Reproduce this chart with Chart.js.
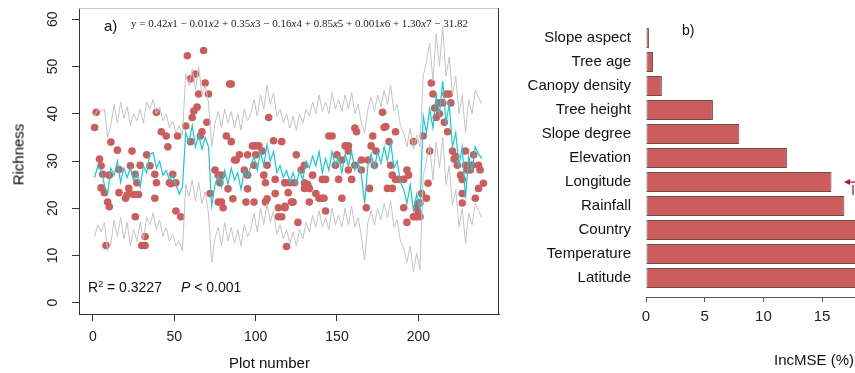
<!DOCTYPE html>
<html><head><meta charset="utf-8">
<script src="https://cdn.jsdelivr.net/npm/chart.js@4"></script>
<style>
html,body{margin:0;padding:0;background:#fff;width:855px;height:373px;overflow:hidden;position:relative;font-family:"Liberation Sans",Arial,sans-serif;}
canvas{position:absolute;top:0;}
#ca{left:0;}
#cb{left:520px;}
.t{position:absolute;white-space:nowrap;color:#111;line-height:1;}
</style></head><body>
<canvas id="ca" width="520" height="373"></canvas>
<canvas id="cb" width="335" height="373"></canvas>
<div class="t" style="left:104px;top:18px;font-size:15px">a)</div>
<div class="t" style="left:131px;top:18px;font-family:'Liberation Serif',serif;font-size:11px;color:#222">y = 0.42<i>x</i>1 − 0.01<i>x</i>2 + 0.35<i>x</i>3 − 0.16<i>x</i>4 + 0.85<i>x</i>5 + 0.001<i>x</i>6 + 1.30<i>x</i>7 − 31.82</div>
<div class="t" style="left:88px;top:280px;font-size:14px">R<span style="font-size:9px;vertical-align:5px">2</span> = 0.3227</div>
<div class="t" style="left:181px;top:280px;font-size:14px"><i>P</i> &lt; 0.001</div>
<div class="t" style="left:-32px;top:147px;width:100px;height:15px;text-align:center;font-size:15px;color:#000;transform:rotate(-90deg)">Richness</div>
<div class="t" style="left:229px;top:355px;font-size:15px">Plot number</div>
<div class="t" style="left:682px;top:23px;font-size:14px">b)</div>
<div class="t" style="right:1px;top:352px;font-size:15px">IncMSE (%)</div>
<script>
// ---------- Panel a data ----------
const richTicks = [0, 10, 20, 30, 40, 50, 60];
const plotTicks = [0, 50, 100, 150, 200];
const lineX = [1,3,5,7,9,11,13,15,17,19,21,23,25,27,29,31,33,35,37,39,41,43,45,47,49,51,53,55,
57,59,61,63,65,67,69,71,73,75,77,79,81,83,85,87,89,91,93,95,97,99,101,103,105,107,109,111,113,115,117,119,
121,123,125,127,129,131,133,135,137,139,141,143,145,147,149,151,153,155,157,159,161,163,165,167,169,171,173,175,177,179,
181,183,185,187,189,191,193,195,197,199,201,203,205,207,209,211,213,215,217,219,221,223,225,227,229,231,233,235,237,239];
const predicted = [26.5,29,28,25,23,28.5,27,30,25.5,28.5,26.5,28.5,26,27.5,24.5,29,27.5,31.5,31.8,28.5,30,27,28,26,27,25,23,24.5,
36,34,37.5,33,35.5,32.5,35,33,
20.5,25,27,24.5,28,25,28.5,26,27.5,24,28,26.5,29,31,28,32,29,33.5,30,32,27.5,29,26.5,28,25.5,27.5,25,28,26,30,28.5,31,29,32,27.5,30.5,28,32,29,31,27.5,31.5,29,32,28,30,27,21,29,31.5,28.5,32,29.5,33,30,34,28.5,30,25.5,24,21,25,19.5,23,19.5,
39.5,36,41,37,44,40,47,38,42,33,36,29,33,22,31,28,33,31.5,30.5];
const upperBound = [39.5,41,40.5,41,35,37.5,42,38,42.5,39,41.5,37.5,40,38.5,41,38,42.5,41,43,40,41.5,38.5,40,37,38.5,36,37.5,35.5,
48.5,46,49.5,45,50,44,46,42.5,
33,38,40.5,37,41,38,40.5,37,40,36.5,41,38.5,40,43,39.5,44,41,46,42,44.5,39.5,41,38,40,37,39.5,36.5,40,38,41,39.5,42.5,40,44,40.5,42.5,40,44.5,41,43,40.5,44,41,44.5,40,42,38,36,41,43.5,40.5,44,41.5,45,42,46,40.5,42,37.5,36,33,37,32.5,35.5,33,
48,51,55,47,57,50,58.5,48,52,44,48,40,44,36,43,40,45,43.5,42];
const lowerBound = [14,16.5,15,17,11,12.5,17.5,14,18,13.5,17,12,15.5,13,17,13.5,18,16.5,19,15.5,17.5,14,16,13,14.5,12,13,11,
25,22.5,26,21.5,25.5,21,23.5,19,
8.5,13.5,16,12,17,13,16,12.5,15.5,12,16.5,14,15.5,19,15,20,16.5,21,17,19.5,14.5,16.5,13.5,15.5,12.5,15,12,15.5,13.5,17,15,18.5,16,19.5,16,18,15.5,20,16.5,18.5,16,20,16.5,20.5,16,18,14,9,17,19.5,16.5,20,17.5,21,18,21.5,16,17.5,13,11.5,8.5,12,6.5,10.5,7,
27,30,33.5,26,34,28.5,35,25,29,20.5,24,16,20,12.5,19,16.5,21,19.5,18];
// observed richness (plot number, richness)
const obsPlot = [2,1,11,4,5,39,45,42,46,15,24,33,35,29,23,16,6,10,26,38,49,47,48,51,39,27,5,7,16,20,22,21,25,28,38,9,10,26,51,54,32,8,30,32,57,52,
58,68,60,63,65,71,69,64,62,61,70,67,66,60,84,85,82,85,108,116,98,100,102,104,95,100,90,88,87,93,75,99,107,105,77,79,95,112,118,78,106,83,95,72,112,77,79,86,94,99,106,107,114,118,114,116,119,111,80,
178,179,161,162,145,147,172,171,155,157,157,125,150,174,153,165,169,130,149,161,173,128,157,165,135,141,143,151,159,118,121,124,130,132,130,133,170,137,139,141,142,120,122,123,133,153,118,168,143,126,
208,209,217,219,220,213,215,210,211,213,216,218,203,197,180,186,182,207,221,223,222,229,234,224,229,232,233,237,183,230,232,238,184,193,186,188,194,191,226,227,206,240,237,181,184,227,227,235,202,205,200,201,191,199,200,197,199,201,193];
const obsRich = [40.3,37.1,34,30.4,29,40.3,35.3,36.2,33,32.3,32.1,31.3,29,29.1,29,28.2,27.2,27,27.2,27.2,27.2,25.4,25.2,25.4,25.4,25.4,24.3,23.3,23.3,22.1,24.2,22.8,22.9,22.9,22.1,21.3,20.3,18.2,19.4,18.2,14,12.1,12.1,12.1,37.4,35.3,
52.3,53.4,47.4,48.4,44.2,44.2,46.5,41.4,40.6,39.2,38.2,36.2,35.3,34.1,46.3,46.3,35.3,34.1,39.2,34.1,33.2,33.2,33.2,32.1,31.3,31.3,31.3,30.2,30.2,28.1,28.1,29.1,29.1,27,27,27,27,26.1,25.4,25.4,25.4,24.1,24.1,23.1,23.1,21.3,21.3,22,21.3,21.3,21.3,22,20.1,20.1,18.2,18.2,11.9,34.3,20.1,
40.3,37.1,37,36.2,35.3,35.3,35.3,33.2,33.2,33.2,32.1,31.3,31.3,32.1,30.2,30.2,30.2,29.1,29.1,29.1,29.1,28.1,28.1,28.1,27,26.1,26.1,26.1,26.1,25.4,25.4,25.4,25.4,25,24.2,24.2,24.2,23.1,22.1,22.1,22.1,23.3,21.3,21.3,21.3,22.1,20.4,20.1,19.4,17,
46.5,44.2,44.2,44.2,42.3,42.3,42.3,41.2,39.2,40,38.2,36.2,35.3,34.1,37.3,36.2,34.1,32.1,32.1,31,30.4,32.1,31.3,29.1,29.1,29.1,29.1,29.1,29.1,28.1,28.1,28.1,27,28.1,26.1,26.1,27,26.1,27,26.1,25.3,25.3,24.2,24.2,24.2,23.1,21.1,22.1,23.1,22.1,21.1,21.1,20.1,20.1,19.1,18.2,18.2,18.2,17];

// ---------- Panel b data ----------
const factors = ['Slope aspect','Tree age','Canopy density','Tree height','Slope degree','Elevation','Longitude','Rainfall','Country','Temperature','Latitude'];
const incMSE = [0.25, 0.6, 1.35, 5.7, 7.95, 12.0, 15.8, 16.9, 19.5, 20.5, 21.5];
const mseTicks = [0, 5, 10, 15];

const toPts = (xs, ys) => xs.map((x, k) => ({x: x, y: ys[k]}));
const noPad = s => { s.paddingTop = 0; s.paddingBottom = 0; s.paddingLeft = 0; s.paddingRight = 0; };

const boxPlugin = {
  id: 'box',
  afterDraw(chart) {
    const {ctx, chartArea: a} = chart;
    ctx.save();
    ctx.lineWidth = 1;
    ctx.strokeStyle = '#c8c8c8';
    ctx.beginPath(); ctx.moveTo(a.left, a.top + 0.5); ctx.lineTo(a.right, a.top + 0.5); ctx.stroke();
    ctx.strokeStyle = '#333';
    ctx.beginPath(); ctx.moveTo(a.right - 0.5, a.top); ctx.lineTo(a.right - 0.5, a.bottom); ctx.stroke();
    ctx.restore();
  }
};

Chart.defaults.font.family = '"Liberation Sans", Arial, sans-serif';

new Chart(document.getElementById('ca'), {
  type: 'scatter',
  data: { datasets: [
    {type: 'line', data: toPts(lineX, predicted), borderColor: '#16cbd3', borderWidth: 1.2, pointRadius: 0, fill: false, tension: 0, order: 0},
    {type: 'line', data: toPts(lineX, upperBound), borderColor: '#c4c4c4', borderWidth: 1, pointRadius: 0, fill: false, tension: 0, order: 1},
    {type: 'line', data: toPts(lineX, lowerBound), borderColor: '#c4c4c4', borderWidth: 1, pointRadius: 0, fill: false, tension: 0, order: 1},
    {type: 'scatter', data: toPts(obsPlot, obsRich), backgroundColor: '#cd5c5c', borderWidth: 0, pointRadius: 3.8, order: 2}
  ]},
  options: {
    responsive: false, animation: false, events: [],
    plugins: {legend: {display: false}, tooltip: {enabled: false}},
    layout: {padding: {left: 0, right: 21, top: 8, bottom: 0}},
    scales: {
      x: {
        type: 'linear', min: -8.6, max: 249.6,
        afterBuildTicks: s => { s.ticks = plotTicks.map(v => ({value: v})); },
        afterFit: s => { s.height = 59; noPad(s); },
        grid: {drawOnChartArea: false, drawTicks: true, tickLength: 7, color: '#333'},
        border: {display: true, color: '#333', width: 1},
        ticks: {font: {size: 14}, color: '#222', padding: 8, maxRotation: 0, autoSkip: false}
      },
      y: {
        type: 'linear', min: -2.4, max: 62.4,
        afterBuildTicks: s => { s.ticks = richTicks.map(v => ({value: v})); },
        afterFit: s => { s.width = 79; noPad(s); },
        grid: {drawOnChartArea: false, drawTicks: true, tickLength: 7, color: '#333'},
        border: {display: true, color: '#333', width: 1},
        ticks: {font: {size: 14}, color: '#222', padding: 11, minRotation: 90, maxRotation: 90, crossAlign: 'center', autoSkip: false}
      }
    }
  },
  plugins: [boxPlugin]
});

const arrowPlugin = {
  id: 'arrow',
  afterDraw(chart) {
    const {ctx, chartArea: a} = chart;
    const y = chart.scales.y.getPixelForValue(factors.indexOf('Longitude'));
    const x = a.right - 10;
    ctx.save();
    ctx.strokeStyle = '#b0143c'; ctx.fillStyle = '#b0143c'; ctx.lineWidth = 1.3;
    ctx.beginPath(); ctx.moveTo(x + 3, y); ctx.lineTo(a.right, y); ctx.stroke();
    ctx.beginPath(); ctx.moveTo(x - 1, y); ctx.lineTo(x + 5, y - 3); ctx.lineTo(x + 5, y + 3); ctx.closePath(); ctx.fill();
    ctx.beginPath(); ctx.moveTo(a.right - 2, y + 3); ctx.lineTo(a.right - 2, y + 13); ctx.stroke();
    ctx.restore();
  }
};

new Chart(document.getElementById('cb'), {
  type: 'bar',
  data: { datasets: [{
    data: factors.map((f, k) => ({x: incMSE[k], y: k})),
    backgroundColor: '#cd5c5c', borderColor: '#6e4a4a', borderWidth: 1, borderSkipped: false,
    barPercentage: 0.83, categoryPercentage: 1
  }]},
  options: {
    indexAxis: 'y', responsive: false, animation: false, events: [],
    plugins: {legend: {display: false}, tooltip: {enabled: false}},
    layout: {padding: {left: 0, right: 0, top: 26, bottom: 0}},
    scales: {
      x: {
        type: 'linear', min: 0, max: 17.8,
        afterBuildTicks: s => { s.ticks = mseTicks.map(v => ({value: v})); },
        afterFit: s => { s.height = 76; noPad(s); },
        grid: {drawOnChartArea: false, drawTicks: true, tickLength: 5, color: '#555'},
        border: {display: true, color: '#555', width: 1},
        ticks: {font: {size: 15}, color: '#222', padding: 6, maxRotation: 0, autoSkip: false}
      },
      y: {
        type: 'linear', reverse: true, offset: false, min: -0.5, max: 10.79,
        afterBuildTicks: s => { s.ticks = factors.map((f, k) => ({value: k})); },
        afterFit: s => { s.width = 126; noPad(s); },
        grid: {display: false, drawTicks: false, offset: false},
        border: {display: false},
        ticks: {font: {size: 15}, color: '#111', padding: 15, autoSkip: false,
          callback: v => factors[Math.round(v)]}
      }
    }
  },
  plugins: [arrowPlugin]
});
</script>
</body></html>
